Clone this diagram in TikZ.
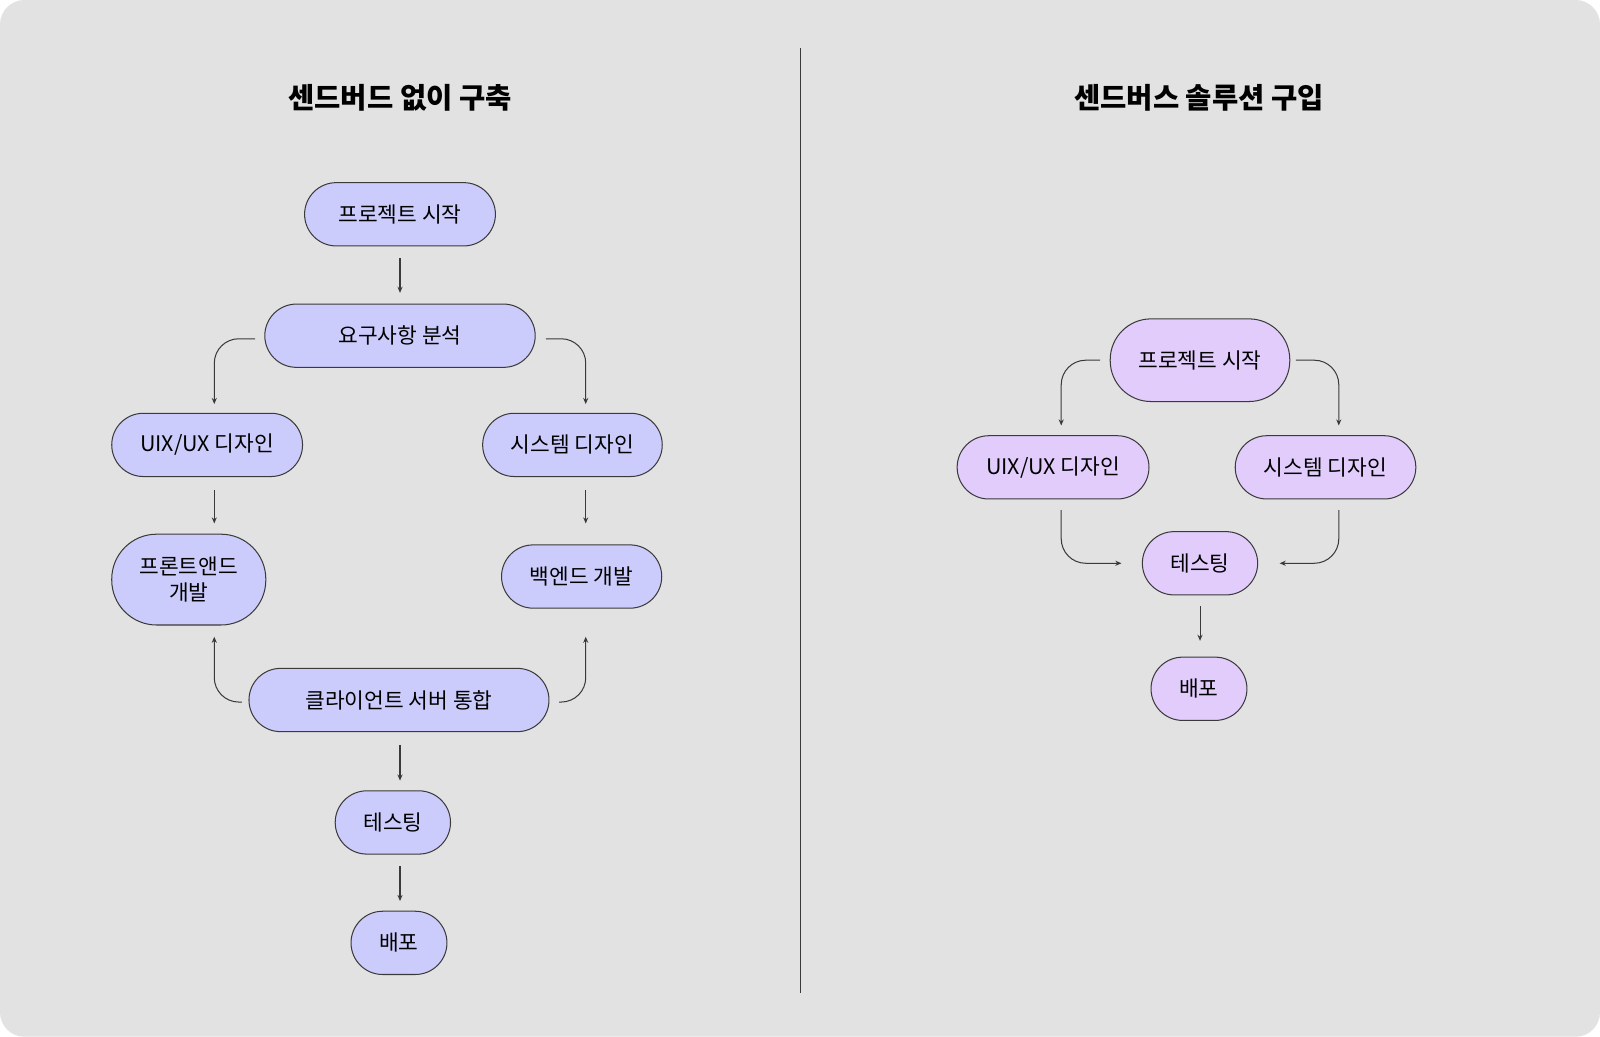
\documentclass[tikz,border=0pt]{standalone}
\usepackage{fontspec}
\setmainfont{Noto Sans CJK KR}
\usetikzlibrary{arrows.meta}
\definecolor{bgrey}{HTML}{E2E2E2}
\definecolor{leftfill}{HTML}{CCCCFC}
\definecolor{rightfill}{HTML}{E2CCFC}
\definecolor{lineg}{HTML}{3A3A3A}
\tikzset{every picture/.style={line width=0.5pt}}
\tikzset{
  stage/.style={draw=lineg, rounded corners=15.5pt, minimum height=31pt, align=center,
    font=\fontsize{10.5}{13}\selectfont, inner sep=0pt},
  leftstage/.style={stage, fill=leftfill},
  rightstage/.style={stage, fill=rightfill},
  flow/.style={draw=lineg, line width=0.5pt, -{Stealth[length=3pt,width=2.5pt]}},
  elbow/.style={flow, rounded corners=12pt},
  heading/.style={font=\fontsize{14}{16}\selectfont\bfseries}
}

\begin{document}
\begin{tikzpicture}[x=0.5pt,y=-0.5pt]
\fill[white] (0,0) rectangle (1568,1016);
\fill[bgrey, rounded corners=12pt] (0,0) rectangle (1568,1016);
\useasboundingbox (0,0) rectangle (1568,1016);

% divider
\draw[lineg] (784,47) -- (784,973);

% headings
\node[heading] (lefttitle) at (392,96) {센드버드 없이 구축};
\node[heading] (righttitle) at (1175,96) {센드버스 솔루션 구입};

% left flow
\node[leftstage, minimum width=93.5pt] (start) at (392,210) {프로젝트 시작};
\node[leftstage, minimum width=132.5pt] (req) at (392,329) {요구사항 분석};
\node[leftstage, minimum width=93.5pt] (uiux) at (203,436) {UIX/UX 디자인};
\node[leftstage, minimum width=88pt] (sysd) at (561,436) {시스템 디자인};
\node[leftstage, minimum width=75.5pt, minimum height=44.5pt, rounded corners=22pt] (front) at (185,568) {프론트앤드\\개발};
\node[leftstage, minimum width=78.5pt] (back) at (570,565) {백엔드 개발};
\node[leftstage, minimum width=147pt] (integ) at (391,686) {클라이언트 서버 통합};
\node[leftstage, minimum width=56.5pt] (test) at (385,806) {테스팅};
\node[leftstage, minimum width=47pt] (deploy) at (391,924) {배포};

\coordinate (reqL) at (250,332);
\coordinate (reqR) at (535,332);
\coordinate (uiT) at (210,396);
\coordinate (sysT) at (574,396);
\coordinate (integL) at (237,688);
\coordinate (integR) at (548,688);
\coordinate (frontB) at (210,624);
\coordinate (backB) at (574,624);

\draw[flow] (392,253) -- (392,287);
\draw[elbow] (reqL) -| (uiT);
\draw[elbow] (reqR) -| (sysT);
\draw[flow] (210,480) -- (210,513);
\draw[flow] (574,480) -- (574,513);
\draw[elbow] (integL) -| (frontB);
\draw[elbow] (integR) -| (backB);
\draw[flow] (392,730) -- (392,765);
\draw[flow] (392,849) -- (392,883);

% right flow
\node[rightstage, minimum width=88pt, minimum height=40.5pt, rounded corners=20pt] (rstart) at (1176,353) {프로젝트 시작};
\node[rightstage, minimum width=94pt] (ruiux) at (1032,458) {UIX/UX 디자인};
\node[rightstage, minimum width=88.5pt] (rsysd) at (1299,458) {시스템 디자인};
\node[rightstage, minimum width=56.5pt] (rtest) at (1176,552) {테스팅};
\node[rightstage, minimum width=47pt] (rdeploy) at (1175,675) {배포};

\coordinate (rstartL) at (1078,353);
\coordinate (rstartR) at (1270,353);
\coordinate (ruiT) at (1040,417);
\coordinate (rsysT) at (1312,417);
\coordinate (ruiB) at (1040,500);
\coordinate (rsysB) at (1312,500);
\coordinate (rtestL) at (1099,552);
\coordinate (rtestR) at (1254,552);

\draw[elbow] (rstartL) -| (ruiT);
\draw[elbow] (rstartR) -| (rsysT);
\draw[elbow] (ruiB) |- (rtestL);
\draw[elbow] (rsysB) |- (rtestR);
\draw[flow] (1176,594) -- (1176,628);
\end{tikzpicture}
\end{document}
